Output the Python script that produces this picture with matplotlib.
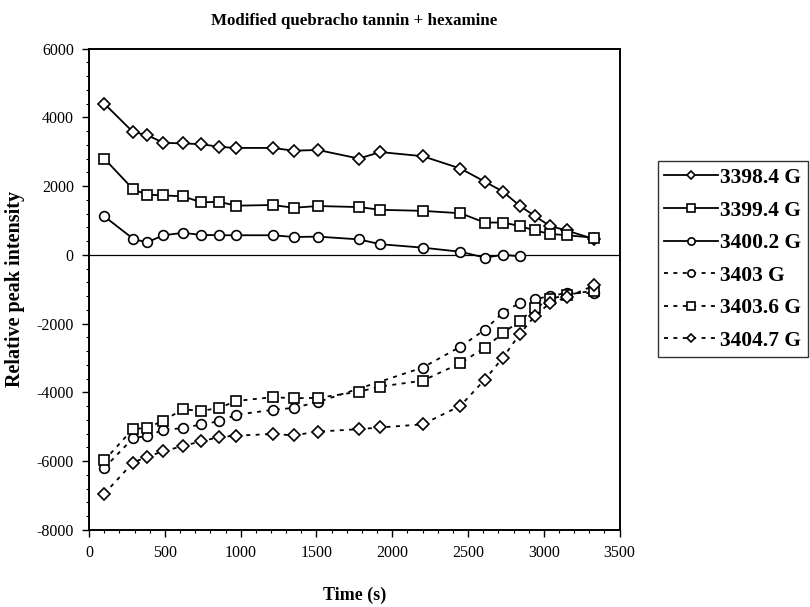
import matplotlib.pyplot as plt
from matplotlib.ticker import MultipleLocator

plt.rcParams["font.family"] = ["Liberation Serif", "DejaVu Serif"]
plt.rcParams["axes.unicode_minus"] = False

# time points (s)
t_all = [100, 290, 380, 490, 620, 740, 860, 970, 1210, 1350, 1510,
         1780, 1920, 2200, 2450, 2610, 2730, 2840, 2940, 3040, 3150, 3330]
t_3400 = [100, 290, 380, 490, 620, 740, 860, 970, 1210, 1350, 1510,
          1780, 1920, 2200, 2450, 2610, 2730, 2840]
t_3403 = [100, 290, 380, 490, 620, 740, 860, 970, 1210, 1350, 1510,
          2200, 2450, 2610, 2730, 2840, 2940, 3040, 3150, 3330]

# relative peak intensities
g3398_4 = [4400, 3570, 3490, 3260, 3240, 3220, 3140, 3110, 3110, 3030, 3050,
           2800, 2990, 2870, 2510, 2130, 1840, 1430, 1130, 840, 710, 460]
g3399_4 = [2800, 1910, 1750, 1730, 1700, 1530, 1540, 1430, 1450, 1370, 1420,
           1390, 1310, 1280, 1210, 940, 940, 840, 710, 610, 570, 500]
g3400_2 = [1120, 470, 360, 570, 640, 580, 570, 570, 570, 520, 530,
           450, 310, 210, 90, -80, 0, -40]
g3403 = [-6200, -5330, -5270, -5090, -5040, -4930, -4840, -4650, -4510, -4450, -4280,
         -3280, -2670, -2180, -1680, -1400, -1290, -1200, -1110, -1110]
g3403_6 = [-5980, -5060, -5040, -4820, -4490, -4540, -4450, -4250, -4140, -4170, -4160,
           -3980, -3830, -3660, -3150, -2700, -2280, -1920, -1560, -1290, -1160, -1040]
g3404_7 = [-6950, -6040, -5880, -5710, -5560, -5420, -5300, -5260, -5210, -5250, -5140,
           -5070, -5020, -4930, -4390, -3630, -2990, -2310, -1780, -1400, -1240, -890]

labels = ["3398.4 G", "3399.4 G", "3400.2 G", "3403 G", "3403.6 G", "3404.7 G"]

fig = plt.figure(figsize=(8.1, 6.07), dpi=100)
ax = fig.add_axes([0.110, 0.127, 0.655, 0.793])

solid = dict(color="black", linestyle="-", linewidth=1.3, markerfacecolor="white",
             markeredgecolor="black", markeredgewidth=1.2)
dotted = dict(color="black", linestyle=(0, (2.2, 3.0)), linewidth=1.3,
              markerfacecolor="white", markeredgecolor="black", markeredgewidth=1.2)

ax.axhline(0, color="black", linewidth=0.9, zorder=1)

ax.plot(t_all, g3398_4, marker="D", markersize=6, label=labels[0], **solid)
ax.plot(t_all, g3399_4, marker="s", markersize=7, label=labels[1], **solid)
ax.plot(t_3400, g3400_2, marker="o", markersize=7, label=labels[2], **solid)
ax.plot(t_3403, g3403, marker="o", markersize=7, label=labels[3], **dotted)
ax.plot(t_all, g3403_6, marker="s", markersize=7, label=labels[4], **dotted)
ax.plot(t_all, g3404_7, marker="D", markersize=6, label=labels[5], **dotted)

ax.set_xlim(0, 3500)
ax.set_ylim(-8000, 6000)
ax.xaxis.set_major_locator(MultipleLocator(500))
ax.xaxis.set_minor_locator(MultipleLocator(100))
ax.yaxis.set_major_locator(MultipleLocator(2000))
ax.yaxis.set_minor_locator(MultipleLocator(400))
ax.tick_params(which="major", direction="out", length=5, width=1, labelsize=11.5,
               pad=6)
ax.tick_params(which="minor", direction="out", length=2.5, width=0.8)
for s in ax.spines.values():
    s.set_linewidth(1.4)

ax.set_xlabel("Time (s)", fontsize=13, fontweight="bold", labelpad=18)
ax.set_ylabel("Relative peak intensity", fontsize=14.5, fontweight="bold", labelpad=8)
ax.set_title("Modified quebracho tannin + hexamine", fontsize=12.2, fontweight="bold",
             pad=17)

leg = ax.legend(loc="upper left", bbox_to_anchor=(0.812, 0.734),
                bbox_transform=fig.transFigure, frameon=True, fancybox=False,
                edgecolor="black", prop={"weight": "bold", "size": 15.5},
                handlelength=2.5, handletextpad=0.1, labelspacing=0.58,
                borderpad=0.3, borderaxespad=0, markerscale=0.75)
leg.get_frame().set_linewidth(1.0)

fig.savefig("out.png", dpi=100)
